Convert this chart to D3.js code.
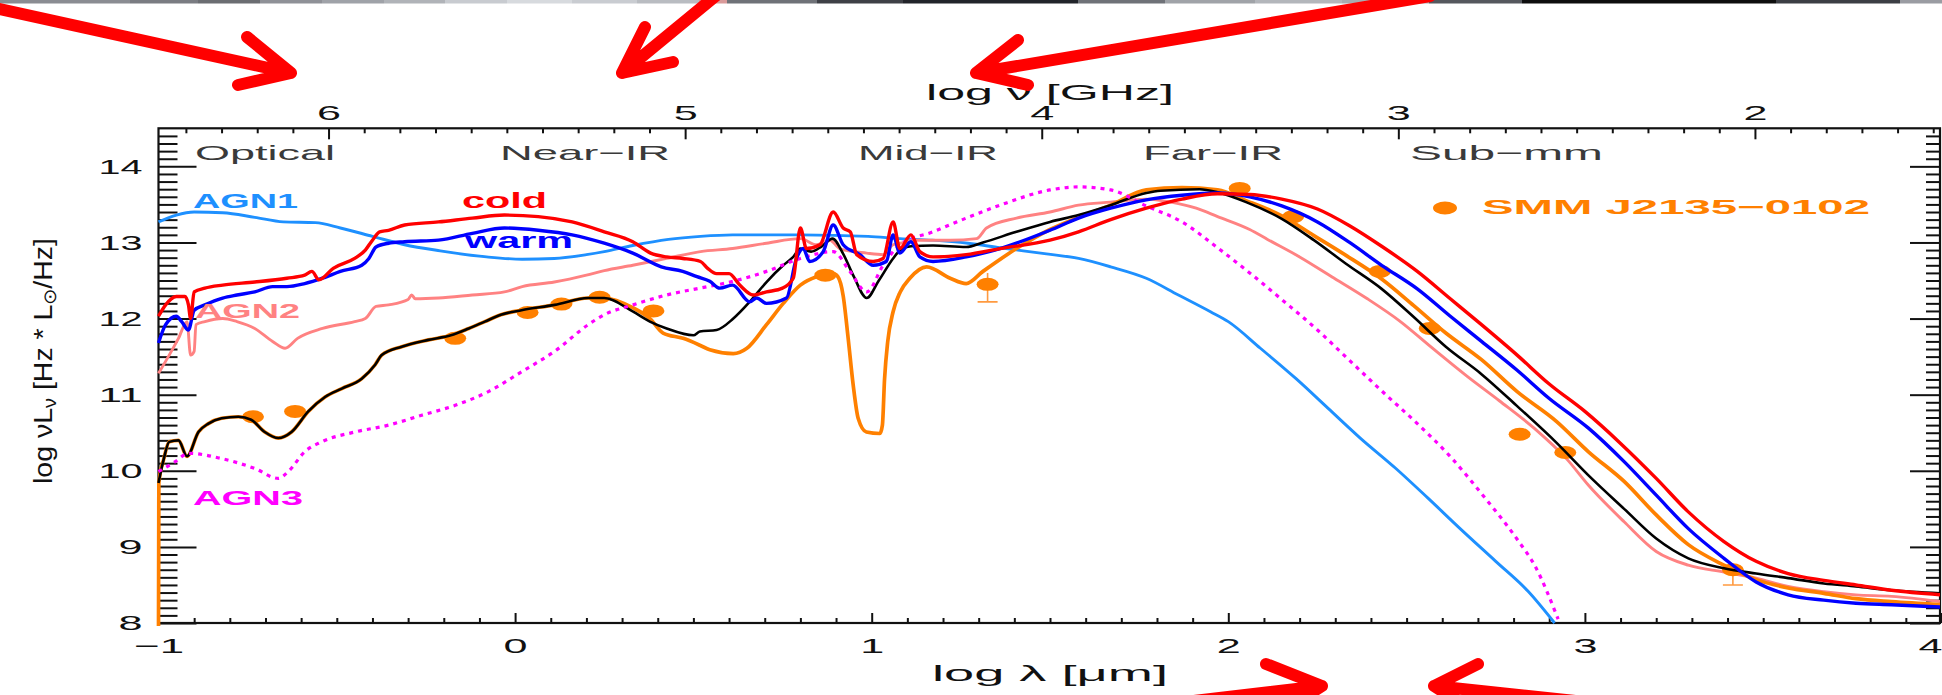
<!DOCTYPE html>
<html>
<head>
<meta charset="utf-8">
<script src="https://cdn.jsdelivr.net/npm/d3@7"></script>
<style>
  body { margin: 0; background: #fff; }
  svg { display: block; }
</style>
</head>
<body>
<script>
// ---- data: [log lambda (um), log nuL_nu (Hz*Lsun/Hz)] ----
var agn1 = [[-1.0,13.27],[-0.95,13.36],[-0.90,13.40],[-0.82,13.39],[-0.73,13.33],[-0.65,13.27],[-0.56,13.26],[-0.49,13.19],[-0.40,13.08],[-0.31,12.97],[-0.21,12.89],[-0.08,12.81],[0.02,12.78],[0.11,12.79],[0.20,12.84],[0.25,12.88],[0.33,12.96],[0.43,13.04],[0.52,13.08],[0.61,13.10],[0.80,13.10],[0.99,13.08],[1.08,13.05],[1.17,13.03],[1.27,12.99],[1.36,12.93],[1.49,12.85],[1.58,12.79],[1.67,12.68],[1.77,12.53],[1.86,12.31],[1.95,12.09],[2.00,11.96],[2.09,11.61],[2.19,11.21],[2.28,10.82],[2.37,10.43],[2.47,10.03],[2.56,9.64],[2.65,9.24],[2.75,8.81],[2.84,8.42],[2.915,8.0]];

var cold = [[-1.0,12.03],[-0.98,12.18],[-0.95,12.29],[-0.926,12.29],[-0.916,12.18],[-0.91,12.0],[-0.90,12.35],[-0.87,12.40],[-0.82,12.44],[-0.73,12.48],[-0.64,12.53],[-0.59,12.57],[-0.57,12.62],[-0.55,12.51],[-0.51,12.66],[-0.45,12.79],[-0.42,12.90],[-0.40,13.03],[-0.38,13.14],[-0.355,13.16],[-0.31,13.23],[-0.215,13.27],[-0.12,13.32],[-0.03,13.36],[0.065,13.34],[0.16,13.27],[0.25,13.14],[0.33,13.01],[0.38,12.86],[0.425,12.81],[0.47,12.79],[0.52,12.75],[0.54,12.66],[0.565,12.59],[0.60,12.59],[0.63,12.44],[0.668,12.31],[0.705,12.35],[0.75,12.40],[0.78,12.53],[0.80,13.19],[0.817,12.92],[0.855,12.97],[0.892,13.40],[0.92,13.19],[0.94,13.14],[0.958,12.84],[1.004,12.75],[1.032,12.79],[1.06,13.27],[1.079,12.92],[1.11,13.10],[1.135,12.88],[1.172,12.81],[1.265,12.84],[1.36,12.92],[1.50,13.03],[1.58,13.14],[1.67,13.30],[1.77,13.45],[1.87,13.57],[1.97,13.64],[2.06,13.63],[2.15,13.57],[2.25,13.44],[2.34,13.22],[2.43,12.95],[2.53,12.62],[2.62,12.27],[2.71,11.92],[2.81,11.52],[2.90,11.14],[3.00,10.78],[3.10,10.36],[3.20,9.90],[3.29,9.46],[3.39,9.07],[3.48,8.81],[3.57,8.65],[3.67,8.56],[3.76,8.50],[3.86,8.43],[4.0,8.37]];

var warm = [[-1.0,11.68],[-0.98,11.92],[-0.95,12.03],[-0.935,11.96],[-0.916,11.85],[-0.90,12.11],[-0.87,12.18],[-0.82,12.27],[-0.78,12.31],[-0.73,12.35],[-0.68,12.42],[-0.64,12.42],[-0.59,12.46],[-0.54,12.53],[-0.49,12.62],[-0.43,12.70],[-0.41,12.79],[-0.39,12.94],[-0.355,12.99],[-0.31,13.01],[-0.215,13.03],[-0.12,13.12],[-0.03,13.19],[0.065,13.16],[0.16,13.10],[0.25,12.99],[0.33,12.86],[0.41,12.68],[0.47,12.62],[0.51,12.55],[0.546,12.49],[0.574,12.40],[0.61,12.44],[0.658,12.22],[0.677,12.27],[0.705,12.20],[0.761,12.27],[0.789,12.79],[0.808,12.92],[0.826,12.75],[0.864,12.88],[0.892,13.23],[0.92,12.97],[0.967,12.84],[1.004,12.70],[1.041,12.75],[1.06,13.10],[1.079,12.86],[1.11,13.01],[1.135,12.81],[1.172,12.75],[1.265,12.81],[1.36,12.92],[1.50,13.16],[1.58,13.32],[1.67,13.45],[1.77,13.56],[1.87,13.62],[1.97,13.65],[2.06,13.60],[2.15,13.48],[2.25,13.27],[2.34,13.0],[2.43,12.70],[2.53,12.39],[2.62,12.04],[2.71,11.70],[2.81,11.32],[2.90,10.95],[3.01,10.56],[3.11,10.12],[3.20,9.68],[3.29,9.24],[3.39,8.85],[3.48,8.54],[3.57,8.37],[3.67,8.30],[3.76,8.26],[3.86,8.24],[4.0,8.21]];

var agn2 = [[-1.0,11.28],[-0.97,11.52],[-0.944,11.74],[-0.92,11.96],[-0.91,11.52],[-0.90,11.57],[-0.895,11.92],[-0.87,11.96],[-0.82,12.0],[-0.78,11.96],[-0.73,11.87],[-0.68,11.70],[-0.645,11.61],[-0.61,11.74],[-0.54,11.87],[-0.45,11.96],[-0.42,12.0],[-0.39,12.16],[-0.355,12.18],[-0.30,12.25],[-0.29,12.31],[-0.28,12.26],[-0.215,12.27],[-0.12,12.31],[-0.03,12.35],[0.02,12.42],[0.11,12.48],[0.20,12.57],[0.25,12.63],[0.33,12.70],[0.425,12.79],[0.52,12.88],[0.61,12.92],[0.705,12.99],[0.80,13.05],[0.845,12.97],[0.883,13.03],[0.91,12.92],[0.986,12.86],[1.032,12.84],[1.06,12.97],[1.08,12.99],[1.125,13.03],[1.22,13.03],[1.294,13.05],[1.322,13.19],[1.406,13.32],[1.50,13.40],[1.58,13.49],[1.67,13.53],[1.77,13.57],[1.86,13.51],[1.91,13.45],[1.97,13.34],[2.06,13.17],[2.11,13.04],[2.20,12.81],[2.29,12.55],[2.39,12.26],[2.48,11.97],[2.57,11.62],[2.67,11.24],[2.76,10.92],[2.86,10.55],[2.95,10.15],[3.01,9.81],[3.11,9.33],[3.20,8.94],[3.29,8.76],[3.39,8.67],[3.48,8.59],[3.57,8.48],[3.67,8.41],[3.76,8.37],[3.86,8.35],[4.0,8.28]];

var agn3 = [[-1.0,9.99],[-0.953,10.12],[-0.916,10.23],[-0.823,10.16],[-0.73,10.03],[-0.664,9.90],[-0.636,9.99],[-0.59,10.25],[-0.543,10.38],[-0.449,10.51],[-0.355,10.60],[-0.262,10.73],[-0.168,10.86],[-0.075,11.04],[0.018,11.30],[0.111,11.57],[0.205,11.92],[0.25,12.05],[0.331,12.18],[0.425,12.31],[0.518,12.40],[0.612,12.49],[0.705,12.62],[0.80,12.79],[0.892,12.88],[0.939,12.62],[0.986,12.35],[1.032,12.70],[1.079,12.97],[1.172,13.14],[1.265,13.32],[1.36,13.49],[1.50,13.69],[1.58,13.73],[1.67,13.69],[1.77,13.48],[1.87,13.27],[1.97,12.93],[2.06,12.60],[2.15,12.25],[2.25,11.85],[2.34,11.45],[2.43,11.05],[2.53,10.62],[2.62,10.20],[2.71,9.70],[2.81,9.10],[2.86,8.75],[2.925,8.05]];

var bestFit = [[-1.0,9.84],[-0.985,10.16],[-0.97,10.38],[-0.944,10.40],[-0.92,10.19],[-0.888,10.51],[-0.86,10.62],[-0.823,10.69],[-0.776,10.71],[-0.74,10.67],[-0.702,10.51],[-0.664,10.43],[-0.627,10.51],[-0.58,10.78],[-0.533,10.97],[-0.486,11.08],[-0.43,11.21],[-0.393,11.39],[-0.374,11.52],[-0.318,11.63],[-0.243,11.72],[-0.18,11.78],[-0.13,11.87],[-0.085,11.96],[-0.04,12.05],[0.018,12.11],[0.111,12.18],[0.205,12.27],[0.25,12.27],[0.331,12.09],[0.378,11.96],[0.425,11.87],[0.50,11.78],[0.518,11.83],[0.565,11.85],[0.612,12.0],[0.658,12.22],[0.705,12.48],[0.752,12.70],[0.78,12.81],[0.80,12.92],[0.83,12.88],[0.86,12.95],[0.89,13.05],[0.92,12.85],[0.95,12.55],[0.986,12.27],[1.02,12.50],[1.06,12.79],[1.08,12.90],[1.11,12.95],[1.172,12.96],[1.265,12.94],[1.312,13.0],[1.406,13.14],[1.50,13.27],[1.58,13.36],[1.67,13.49],[1.77,13.65],[1.81,13.68],[1.92,13.70],[1.97,13.66],[2.05,13.53],[2.15,13.31],[2.24,13.03],[2.33,12.72],[2.43,12.39],[2.52,12.02],[2.61,11.63],[2.71,11.27],[2.81,10.85],[2.92,10.37],[3.01,9.94],[3.11,9.50],[3.20,9.11],[3.29,8.85],[3.39,8.72],[3.48,8.65],[3.57,8.59],[3.67,8.52],[3.76,8.48],[3.86,8.43],[4.0,8.39]];

var smmTemplate = [[-1.0,7.95],[-0.999,9.84],[-0.985,10.16],[-0.97,10.38],[-0.944,10.40],[-0.92,10.19],[-0.888,10.51],[-0.86,10.62],[-0.823,10.69],[-0.776,10.71],[-0.74,10.67],[-0.702,10.51],[-0.664,10.43],[-0.627,10.51],[-0.58,10.78],[-0.533,10.97],[-0.486,11.08],[-0.43,11.21],[-0.393,11.39],[-0.374,11.52],[-0.318,11.63],[-0.243,11.72],[-0.18,11.78],[-0.13,11.87],[-0.085,11.96],[-0.04,12.05],[0.018,12.11],[0.111,12.18],[0.205,12.27],[0.25,12.27],[0.331,12.14],[0.378,12.0],[0.415,11.81],[0.471,11.74],[0.518,11.65],[0.546,11.59],[0.612,11.54],[0.65,11.61],[0.705,11.92],[0.752,12.20],[0.80,12.44],[0.845,12.55],[0.892,12.59],[0.905,12.55],[0.92,12.30],[0.934,11.74],[0.948,11.13],[0.962,10.69],[0.985,10.51],[1.023,10.49],[1.03,10.6],[1.036,11.2],[1.045,11.7],[1.06,12.09],[1.08,12.35],[1.107,12.53],[1.154,12.68],[1.22,12.53],[1.265,12.46],[1.312,12.62],[1.406,12.92],[1.50,13.17],[1.58,13.33],[1.67,13.49],[1.77,13.69],[1.87,13.72],[1.97,13.69],[2.05,13.55],[2.15,13.35],[2.24,13.09],[2.33,12.83],[2.43,12.52],[2.52,12.17],[2.61,11.81],[2.71,11.46],[2.81,11.04],[2.92,10.65],[3.01,10.25],[3.11,9.86],[3.20,9.42],[3.29,9.03],[3.39,8.76],[3.48,8.57],[3.57,8.46],[3.67,8.39],[3.76,8.32],[3.86,8.28],[4.0,8.24]];

// photometry of SMM J2135-0102
var obsX = [-0.735, -0.617, -0.168, 0.035, 0.13, 0.237, 0.388, 0.87, 1.325, 2.032, 2.182, 2.425, 2.565, 2.817, 2.945, 3.415];
var obsY = [10.71, 10.78, 11.74, 12.08, 12.19, 12.28, 12.10, 12.57, 12.45, 13.71, 13.34, 12.62, 11.87, 10.48, 10.24, 8.70];
var obsLo = [null, null, null, null, null, null, null, null, 12.22, null, null, null, null, null, null, 8.50];
var obsHi = [null, null, null, null, null, null, null, null, 12.60, null, null, null, null, null, null, 8.78];

// axis ticks
var xTicks = [-1, 0, 1, 2, 3, 4];
var yTicks = [8, 9, 10, 11, 12, 13, 14];
var nuTicks = [6, 5, 4, 3, 2];
var regions = ["Optical", "Near\u2212IR", "Mid\u2212IR", "Far\u2212IR", "Sub\u2212mm"];

//Generate SVG
var width = 1942, height = 695;
var plot = {left: 158.5, right: 1940, top: 128.3, bottom: 623};
var font = "'Liberation Sans', Arial, sans-serif";
var intFormat = d3.format('d');

var svg = d3.select('body')
  .append('svg')
  .attr('width', width)
  .attr('height', height)
  .style('background', 'white');

// Define Scales
var xScale = d3.scaleLinear().domain([-1, 4]).range([plot.left, 1941.5]);
var yScale = d3.scaleLinear().domain([8, 14.5]).range([plot.bottom, plot.top]);
// log nu [GHz] = log(c / lambda) = 5.4768 - log lambda[um]
var logC = Math.log10(2.998e5);
var nuScale = d3.scaleLinear().domain([logC + 1, logC - 4]).range([plot.left, 1941.5]);

function minorTicks(a, b) {
  return d3.range(a * 10, b * 10 + 1).filter(function(v) { return v % 10 !== 0; }).map(function(v) { return v / 10; });
}

function styleAxis(g, widthOf) {
  g.select('.domain').remove();
  g.selectAll('line').attr('stroke', '#111').attr('stroke-width', 2);
  g.selectAll('text')
    .attr('font-family', font)
    .attr('font-size', 21)
    .attr('fill', '#111')
    .attr('lengthAdjust', 'spacingAndGlyphs')
    .attr('textLength', function() { return widthOf(this.textContent); });
}
function labelWidth(s) { return s.length === 1 ? 24 : (s.charAt(0) === '\u2212' ? 50 : 44); }

//Draw Axes
var bottomAxis = svg.append('g').attr('transform', 'translate(0,' + plot.bottom + ')')
  .call(d3.axisBottom(xScale).tickValues(xTicks).tickFormat(intFormat).tickSize(-10).tickPadding(15))
  .call(styleAxis, labelWidth);
// last label sits on the page edge, keep it inside
bottomAxis.selectAll('text').filter(function(d) { return d === 4; })
  .attr('text-anchor', 'end').attr('x', width - 1941.5);
svg.append('g').attr('transform', 'translate(0,' + plot.bottom + ')')
  .call(d3.axisBottom(xScale).tickValues(minorTicks(-1, 4)).tickSize(-5).tickFormat(''))
  .call(styleAxis, labelWidth);

svg.append('g').attr('transform', 'translate(0,' + plot.top + ')')
  .call(d3.axisTop(nuScale).tickValues(nuTicks).tickFormat(intFormat).tickSize(-11).tickPadding(8))
  .call(styleAxis, labelWidth);
svg.append('g').attr('transform', 'translate(0,' + plot.top + ')')
  .call(d3.axisTop(nuScale).tickValues(minorTicks(2, 6).concat([1.5, 1.6, 1.7, 1.8, 1.9, 6.1, 6.2, 6.3, 6.4])).tickSize(-5).tickFormat(''))
  .call(styleAxis, labelWidth);

svg.append('g').attr('transform', 'translate(' + plot.left + ',0)')
  .call(d3.axisLeft(yScale).tickValues(yTicks).tickFormat(intFormat).tickSize(-38).tickPadding(16))
  .call(styleAxis, labelWidth);
svg.append('g').attr('transform', 'translate(' + plot.left + ',0)')
  .call(d3.axisLeft(yScale).tickValues(minorTicks(8, 14).concat([14.1, 14.2, 14.3, 14.4])).tickSize(-19).tickFormat(''))
  .call(styleAxis, labelWidth);

svg.append('g').attr('transform', 'translate(' + plot.right + ',0)')
  .call(d3.axisRight(yScale).tickValues(yTicks).tickSize(-30).tickFormat(''))
  .call(styleAxis, labelWidth);
svg.append('g').attr('transform', 'translate(' + plot.right + ',0)')
  .call(d3.axisRight(yScale).tickValues(minorTicks(8, 14).concat([14.1, 14.2, 14.3, 14.4])).tickSize(-14).tickFormat(''))
  .call(styleAxis, labelWidth);

// frame
svg.append('rect')
  .attr('x', plot.left).attr('y', plot.top)
  .attr('width', plot.right - plot.left).attr('height', plot.bottom - plot.top)
  .attr('fill', 'none').attr('stroke', '#111').attr('stroke-width', 2.2);

// axis titles
svg.append('text').attr('x', 1050).attr('y', 681)
  .attr('text-anchor', 'middle').attr('font-family', font).attr('font-size', 22).attr('fill', '#111')
  .attr('textLength', 236).attr('lengthAdjust', 'spacingAndGlyphs')
  .text('log \u03bb [\u03bcm]');
svg.append('text').attr('x', 1050).attr('y', 100)
  .attr('text-anchor', 'middle').attr('font-family', font).attr('font-size', 22).attr('fill', '#111')
  .attr('textLength', 248).attr('lengthAdjust', 'spacingAndGlyphs')
  .text('log \u03bd [GHz]');

var yTitle = svg.append('g').attr('transform', 'translate(52,361) scale(1.3,1)')
  .append('text').attr('transform', 'rotate(-90)')
  .attr('text-anchor', 'middle').attr('font-family', font).attr('font-size', 20).attr('fill', '#111')
  .attr('textLength', 246).attr('lengthAdjust', 'spacingAndGlyphs');
yTitle.append('tspan').text('log \u03bdL');
yTitle.append('tspan').attr('baseline-shift', '-25%').attr('font-size', 14).text('\u03bd');
yTitle.append('tspan').text(' [Hz * L');
yTitle.append('tspan').attr('baseline-shift', '-25%').attr('font-size', 14).text('\u2299');
yTitle.append('tspan').text('/Hz]');

// wavelength regions along the top
var regionX = [195, 500, 858, 1143, 1410];
var regionW = [140, 170, 140, 140, 193];
svg.selectAll('.region')
  .data(regions)
  .enter()
  .append('text')
  .attr('class', 'region')
  .attr('x', function(d, i) { return regionX[i]; })
  .attr('y', 160)
  .attr('font-family', font).attr('font-size', 21).attr('fill', '#3a3a3a')
  .attr('textLength', function(d, i) { return regionW[i]; })
  .attr('lengthAdjust', 'spacingAndGlyphs')
  .text(function(d) { return d; });

// clip for the curves
svg.append('clipPath').attr('id', 'plotclip')
  .append('rect').attr('x', plot.left - 3).attr('y', plot.top)
  .attr('width', plot.right - plot.left + 3).attr('height', plot.bottom - plot.top + 3);

var line = d3.line()
  .x(function(d) { return xScale(d[0]); })
  .y(function(d) { return yScale(d[1]); })
  .curve(d3.curveMonotoneX);

var curves = svg.append('g').attr('clip-path', 'url(#plotclip)');

function drawCurve(data, color, w, dash) {
  curves.append('path')
    .datum(data)
    .attr('d', line)
    .attr('fill', 'none')
    .attr('stroke', color)
    .attr('stroke-width', w)
    .attr('stroke-linejoin', 'round')
    .attr('stroke-dasharray', dash || null);
}

drawCurve(agn1, '#1e90ff', 2.9);
drawCurve(agn2, '#ff8282', 2.9);
drawCurve(smmTemplate, '#ff8000', 3.7);

// photometry points + error bars
var pts = d3.range(obsX.length);
curves.selectAll('.errbar')
  .data(pts.filter(function(i) { return obsLo[i] !== null; }))
  .enter()
  .append('path')
  .attr('class', 'errbar')
  .attr('d', function(i) {
    var px = xScale(obsX[i]), lo = yScale(obsLo[i]), hi = yScale(obsHi[i]);
    return 'M' + px + ',' + hi + 'V' + lo + 'M' + (px - 10) + ',' + lo + 'H' + (px + 10);
  })
  .attr('stroke', '#ff9a40').attr('stroke-width', 1.6).attr('fill', 'none');
curves.selectAll('.obs')
  .data(pts)
  .enter()
  .append('ellipse')
  .attr('class', 'obs')
  .attr('cx', function(i) { return xScale(obsX[i]); })
  .attr('cy', function(i) { return yScale(obsY[i]); })
  .attr('rx', 11).attr('ry', 6.5)
  .attr('fill', '#ff8000');

drawCurve(bestFit, '#000', 2.6);
drawCurve(agn3, '#ff00ff', 3.2, '4,5');
drawCurve(warm, '#0000ff', 3.4);
drawCurve(cold, '#ff0000', 3.4);

// curve labels
function label(txt, x, y, w, color, size) {
  svg.append('text').attr('x', x).attr('y', y)
    .attr('font-family', font).attr('font-size', size || 21).attr('font-weight', 'bold')
    .attr('fill', color)
    .attr('textLength', w).attr('lengthAdjust', 'spacingAndGlyphs')
    .text(txt);
}
label('AGN1', 193, 208, 105, '#1e90ff');
label('cold', 462, 208, 85, '#ff0000', 22);
label('warm', 465, 248, 108, '#0000ff', 22);
label('AGN2', 195, 318, 105, '#ff8282');
label('AGN3', 193, 505, 110, '#ff00ff');

// legend
svg.append('ellipse').attr('cx', 1445).attr('cy', 208).attr('rx', 12).attr('ry', 6.5).attr('fill', '#ff8000');
label('SMM J2135\u22120102', 1482, 214, 388, '#ff8000');

// screenshot strip along the very top
var strip = [[0,130,'#8a8c92'],[130,198,'#7a7c82'],[198,260,'#6b6d72'],[260,322,'#8f9197'],[322,384,'#9fa2a8'],[384,445,'#b0b3b8'],[445,507,'#c8cbd0'],[507,572,'#d7dade'],[572,637,'#c9ccd1'],[637,699,'#b9bcc1'],[699,727,'#d99a9a'],[727,817,'#6f7278'],[817,903,'#3e4046'],[903,1078,'#22242a'],[1078,1165,'#6f7278'],[1165,1255,'#a0a3a8'],[1255,1342,'#b3b6bb'],[1342,1429,'#a8abb0'],[1429,1522,'#55585e'],[1522,1776,'#0e0e0e'],[1776,1900,'#3c3e44'],[1900,1942,'#9a9ca2']];
svg.selectAll('.strip')
  .data(strip)
  .enter()
  .append('rect')
  .attr('class', 'strip')
  .attr('x', function(d) { return d[0]; })
  .attr('y', 0)
  .attr('width', function(d) { return d[1] - d[0]; })
  .attr('height', 3.5)
  .attr('fill', function(d) { return d[2]; });

// hand drawn red arrows
var arrows = [
  'M-5,8 L291,73 M247,37 L291,73 L238,85',
  'M718,-6 L622,73 M645,27 L622,73 L673,62',
  'M1430,-4 L976,73 M1018,40 L976,73 L1028,85',
  'M1185,702 L1322,686 M1266,664 L1322,686 L1290,706',
  'M1585,702 L1434,686 M1478,664 L1434,686 L1466,706'
];
svg.selectAll('.arrow')
  .data(arrows)
  .enter()
  .append('path')
  .attr('class', 'arrow')
  .attr('d', function(d) { return d; })
  .attr('fill', 'none')
  .attr('stroke', '#ff0000')
  .attr('stroke-width', 12)
  .attr('stroke-linecap', 'round')
  .attr('stroke-linejoin', 'round');
</script>
</body>
</html>
